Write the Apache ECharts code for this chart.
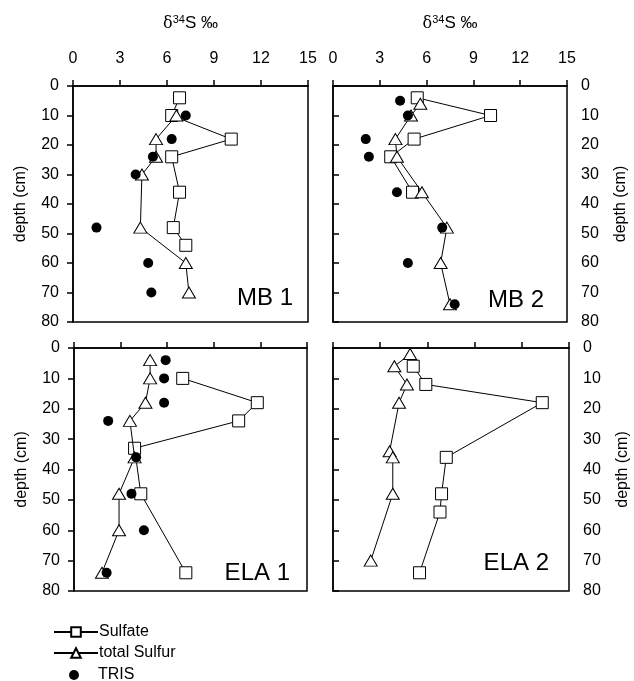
<!DOCTYPE html>
<html><head><meta charset="utf-8">
<script src="https://cdn.jsdelivr.net/npm/echarts@6/dist/echarts.min.js"></script>
<style>html,body{margin:0;padding:0;background:#fff}#c{width:634px;height:681px}</style>
</head><body><div id="c"></div>
<script>
// ---- data (δ34S ‰ values and depths in cm) ----
const panelNames = ['MB 1', 'MB 2', 'ELA 1', 'ELA 2'];
const seriesNames = ['Sulfate', 'total Sulfur', 'TRIS'];
const xTicks = [0, 3, 6, 9, 12, 15];
const yTicks = [0, 10, 20, 30, 40, 50, 60, 70, 80];

const mb1SulfateDepth = [4, 10, 18, 24, 36, 48, 54];
const mb1Sulfate      = [6.8, 6.3, 10.1, 6.3, 6.8, 6.4, 7.2];
const mb1TotalSDepth  = [10, 18, 24, 30, 48, 60, 70];
const mb1TotalS       = [6.6, 5.3, 5.3, 4.4, 4.3, 7.2, 7.4];
const mb1TrisDepth    = [10, 18, 24, 30, 48, 60, 70];
const mb1Tris         = [7.2, 6.3, 5.1, 4.0, 1.5, 4.8, 5.0];

const mb2SulfateDepth = [4, 10, 18, 24, 36];
const mb2Sulfate      = [5.4, 10.1, 5.2, 3.7, 5.1];
const mb2TotalSDepth  = [6, 10, 18, 24, 36, 48, 60, 74];
const mb2TotalS       = [5.6, 5.0, 4.0, 4.1, 5.7, 7.3, 6.9, 7.5];
const mb2TrisDepth    = [5, 10, 18, 24, 36, 48, 60, 74];
const mb2Tris         = [4.3, 4.8, 2.1, 2.3, 4.1, 7.0, 4.8, 7.8];

const ela1SulfateDepth = [10, 18, 24, 33, 48, 74];
const ela1Sulfate      = [7.0, 11.8, 10.6, 3.9, 4.3, 7.2];
const ela1TotalSDepth  = [4, 10, 18, 24, 36, 48, 60, 74];
const ela1TotalS       = [4.9, 4.9, 4.6, 3.6, 3.9, 2.9, 2.9, 1.8];
const ela1TrisDepth    = [4, 10, 18, 24, 36, 48, 60, 74];
const ela1Tris         = [5.9, 5.8, 5.8, 2.2, 4.0, 3.7, 4.5, 2.1];

const ela2SulfateDepth = [6, 12, 18, 36, 48, 54, 74];
const ela2Sulfate      = [5.1, 5.9, 13.3, 7.2, 6.9, 6.8, 5.5];
const ela2TotalSDepth  = [2, 6, 12, 18, 34, 36, 48, 70];
const ela2TotalS       = [4.9, 3.9, 4.7, 4.2, 3.6, 3.8, 3.8, 2.4];
const ela2TrisDepth    = [];
const ela2Tris         = [];

// ---- build ----
const pair = (vals, depths) => vals.map((v, i) => [v, depths[i]]);
const panels = [
  {s: pair(mb1Sulfate, mb1SulfateDepth), t: pair(mb1TotalS, mb1TotalSDepth), r: pair(mb1Tris, mb1TrisDepth)},
  {s: pair(mb2Sulfate, mb2SulfateDepth), t: pair(mb2TotalS, mb2TotalSDepth), r: pair(mb2Tris, mb2TrisDepth)},
  {s: pair(ela1Sulfate, ela1SulfateDepth), t: pair(ela1TotalS, ela1TotalSDepth), r: pair(ela1Tris, ela1TrisDepth)},
  {s: pair(ela2Sulfate, ela2SulfateDepth), t: pair(ela2TotalS, ela2TotalSDepth), r: pair(ela2Tris, ela2TrisDepth)}
];

const FONT = 'Liberation Sans, Arial, sans-serif';
const grids = [
  {left: 73, top: 86, width: 235, height: 236},
  {left: 333, top: 86, width: 234, height: 236},
  {left: 74, top: 348, width: 233, height: 243},
  {left: 333, top: 348, width: 236, height: 243}
];
const gridOpt = grids.map(g => Object.assign({show: true, borderColor: '#000', borderWidth: 1.5, backgroundColor: 'transparent'}, g));

const axisLine = {show: true, lineStyle: {color: '#000', width: 1.5}};
const xAxes = grids.map((g, i) => ({
  type: 'value', gridIndex: i, position: 'top', min: xTicks[0], max: xTicks[xTicks.length - 1], interval: 3,
  axisLine: axisLine, axisTick: {show: true, length: 6, lineStyle: {color: '#000', width: 1.5}},
  splitLine: {show: false},
  axisLabel: {show: i < 2, color: '#000', fontSize: 16, fontFamily: FONT, margin: 19},
  name: i < 2 ? '{d|δ}{sup|34}{s|S ‰}' : '', nameLocation: 'middle', nameGap: 53,
  nameTextStyle: {rich: {
    d: {fontFamily: 'DejaVu Serif, serif', fontSize: 16, color: '#000'},
    sup: {fontFamily: FONT, fontSize: 11, color: '#000', verticalAlign: 'top', padding: [0, 0, 8, 0]},
    s: {fontFamily: FONT, fontSize: 17, color: '#000'}
  }}
}));
const yAxes = grids.map((g, i) => ({
  type: 'value', gridIndex: i, inverse: true, min: yTicks[0], max: yTicks[yTicks.length - 1], interval: 10,
  position: (i % 2 === 0) ? 'left' : 'right',
  axisLine: axisLine, axisTick: {show: true, length: 6, lineStyle: {color: '#000', width: 1.5}},
  splitLine: {show: false},
  axisLabel: {color: '#000', fontSize: 16, fontFamily: FONT, margin: 14},
  name: 'depth (cm)', nameLocation: 'middle', nameRotate: 90, nameGap: (i % 2 === 0) ? 44 : 46,
  nameTextStyle: {color: '#000', fontSize: 16, fontFamily: FONT}
}));

const series = [];
panels.forEach((p, i) => {
  series.push({
    name: seriesNames[0], type: 'line', xAxisIndex: i, yAxisIndex: i, data: p.s,
    symbol: 'rect', symbolSize: 12, showAllSymbol: true,
    lineStyle: {color: '#000', width: 1},
    itemStyle: {color: '#fff', borderColor: '#000', borderWidth: 1},
    animation: false, z: 3
  });
  series.push({
    name: seriesNames[1], type: 'line', xAxisIndex: i, yAxisIndex: i, data: p.t,
    symbol: 'triangle', symbolSize: [13, 11], showAllSymbol: true,
    lineStyle: {color: '#000', width: 1},
    itemStyle: {color: '#fff', borderColor: '#000', borderWidth: 1},
    animation: false, z: 4
  });
  series.push({
    name: seriesNames[2], type: 'scatter', xAxisIndex: i, yAxisIndex: i, data: p.r,
    symbol: 'circle', symbolSize: 10,
    itemStyle: {color: '#000', opacity: 1}, animation: false, z: 5
  });
});

const labelPos = [
  {x: 293, y: 298}, {x: 544, y: 300}, {x: 290, y: 573}, {x: 549, y: 563}
];
const graphic = panelNames.map((n, i) => ({
  type: 'text', x: labelPos[i].x, y: labelPos[i].y, z: 10,
  style: {text: n, fill: '#000', font: '24px ' + FONT, textAlign: 'right', textVerticalAlign: 'middle'}
}));

const legends = [
  {data: [seriesNames[0]], left: 53, top: 624, itemWidth: 44, itemHeight: 12, textPad: -4},
  {data: [seriesNames[1]], left: 53, top: 645, itemWidth: 44, itemHeight: 12, textPad: -4},
  {data: [seriesNames[2]], left: 69, top: 667, itemWidth: 10, itemHeight: 10, textPad: 14}
].map(l => ({
  data: l.data, left: l.left, top: l.top, padding: 0,
  itemWidth: l.itemWidth, itemHeight: l.itemHeight, itemGap: 0,
  textStyle: {color: '#000', fontSize: 16, fontFamily: FONT, padding: [0, 0, 0, l.textPad]},
  selectedMode: false
}));

const chart = echarts.init(document.getElementById('c'), null, {renderer: 'canvas'});
chart.setOption({
  animation: false,
  backgroundColor: '#fff',
  grid: gridOpt,
  xAxis: xAxes,
  yAxis: yAxes,
  series: series,
  graphic: graphic,
  legend: legends
});
</script></body></html>
